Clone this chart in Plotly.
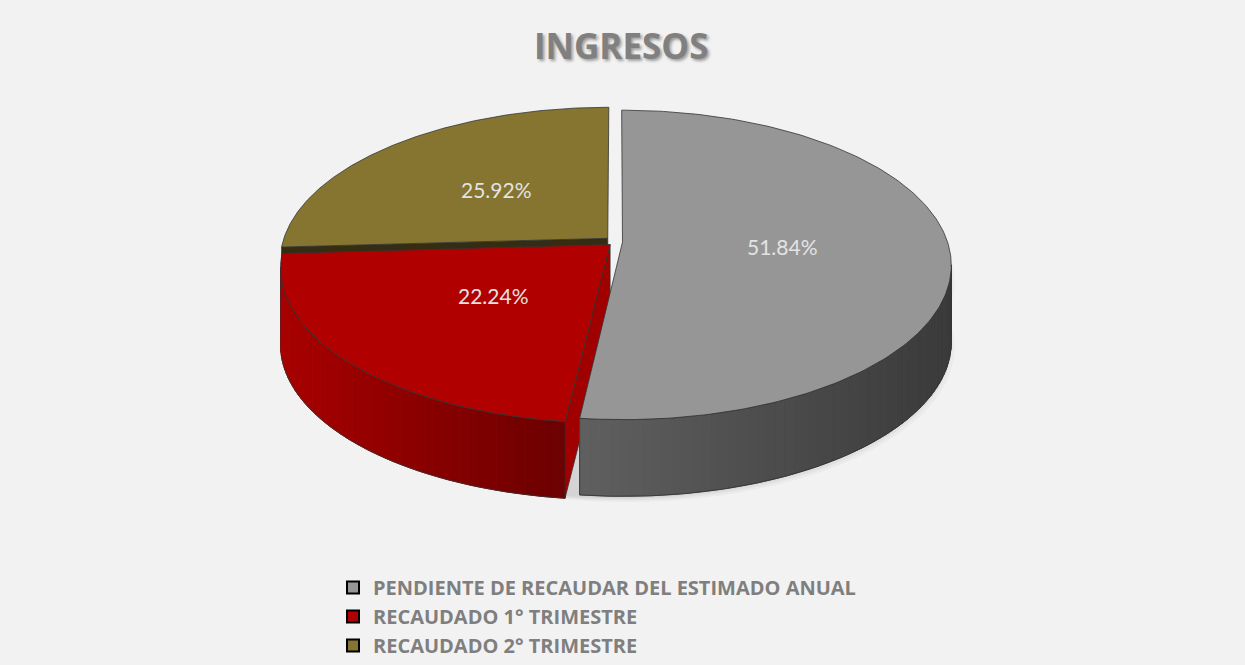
import math
import numpy as np
import plotly.graph_objects as go

# ---------------- data ----------------
categories = [
    "PENDIENTE DE RECAUDAR DEL ESTIMADO ANUAL",
    "RECAUDADO 1° TRIMESTRE",
    "RECAUDADO 2° TRIMESTRE",
]
values = [51.84, 22.24, 25.92]
title_text = "INGRESOS"

# ---------------- style ----------------
top_colors = ["#969696", "#b00000", "#857530"]
wall_left_colors = ["#606060", "#a80000", "#5a4f20"]
wall_right_colors = ["#3a3a3a", "#6c0000", "#3a3210"]
face_colors = ["#4a4a4a", "#a00000", "#342d11"]
edge_color = "#333333"
BG = "#f2f2f2"

W, H = 1245, 665
CX, CY = 616.0, 243.0          # projected apex of the (unexploded) pie
A, K, P = 325.0, 152.0, 0.1475  # horizontal radius, vertical scale, perspective
DEPTH = 77.0
EXPLODE = [0.02, 0.025, 0.035]
LABEL_R = [0.49, 0.467, 0.5]


def project(u, v, z):
    s = 1.0 / (1.0 + P * v)
    return CX + A * u * s, CY - K * v * s + z


def hex2rgb(h):
    h = h.lstrip("#")
    return tuple(int(h[i:i + 2], 16) for i in (0, 2, 4))


def lerp(c1, c2, t):
    a, b = hex2rgb(c1), hex2rgb(c2)
    return "rgb(%d,%d,%d)" % tuple(round(a[i] + (b[i] - a[i]) * t) for i in range(3))


total = float(sum(values))
bounds = np.concatenate([[0.0], np.cumsum(values)]) / total * 360.0

slices = []
for i in range(len(values)):
    t0, t1 = bounds[i], bounds[i + 1]
    tm = math.radians((t0 + t1) / 2)
    su, sv = EXPLODE[i] * math.sin(tm), EXPLODE[i] * math.cos(tm)

    def rim(theta_deg, z, su=su, sv=sv):
        th = math.radians(theta_deg)
        return project(math.sin(th) + su, math.cos(th) + sv, z)

    def apex(z, su=su, sv=sv):
        return project(su, sv, z)

    slices.append(dict(i=i, t0=t0, t1=t1, tm=tm, su=su, sv=sv, rim=rim, apex=apex))

fig = go.Figure()


def poly(xs, ys, fill, line_color=None, line_width=0.8):
    fig.add_trace(go.Scatter(
        x=list(xs) + [xs[0]], y=list(ys) + [ys[0]],
        mode="lines", fill="toself", fillcolor=fill,
        line=dict(color=line_color or fill, width=line_width),
        hoverinfo="skip", showlegend=False,
    ))


def outline(xs, ys, closed=True):
    xs, ys = list(xs), list(ys)
    if closed:
        xs.append(xs[0]); ys.append(ys[0])
    fig.add_trace(go.Scatter(x=xs, y=ys, mode="lines",
                             line=dict(color=edge_color, width=0.8),
                             hoverinfo="skip", showlegend=False))


# soft shadow under the pie
for k_s, alpha in [(10, 0.03), (7, 0.04), (4, 0.05)]:
    th = np.linspace(90, 270, 80)
    xs, ys = [], []
    for t in th:
        x, y = project(math.sin(math.radians(t)), math.cos(math.radians(t)), DEPTH)
        xs.append(x + k_s); ys.append(y + k_s * 0.6)
    for t in th[::-1]:
        x, y = project(math.sin(math.radians(t)), math.cos(math.radians(t)), DEPTH)
        xs.append(x + k_s); ys.append(y - 60)
    fig.add_trace(go.Scatter(x=xs + [xs[0]], y=ys + [ys[0]], mode="lines", fill="toself",
                             fillcolor="rgba(0,0,0,%.2f)" % alpha,
                             line=dict(width=0, color="rgba(0,0,0,0)"),
                             hoverinfo="skip", showlegend=False))

order = sorted(slices, key=lambda s: -s["sv"])  # back to front

# radial faces
for s in order:
    i = s["i"]
    for t, sign in ((s["t0"], -1), (s["t1"], 1)):
        th = math.radians(t)
        ny = sign * (-math.sin(th))
        if ny < -1e-6:
            p1 = s["apex"](0); p2 = s["rim"](t, 0); p3 = s["rim"](t, DEPTH); p4 = s["apex"](DEPTH)
            xs = [p1[0], p2[0], p3[0], p4[0]]
            ys = [p1[1], p2[1], p3[1], p4[1]]
            poly(xs, ys, face_colors[i], edge_color)

# side walls with gradient
thR = math.degrees(math.acos(-P))
thL = 360.0 - thR
for s in order:
    i = s["i"]
    lo, hi = max(s["t0"], thR), min(s["t1"], thL)
    if hi <= lo:
        continue
    n = max(4, int((hi - lo) / 1.5))
    edges = np.linspace(lo, hi, n + 1)
    xr = [s["rim"](t, 0)[0] for t in edges]
    xmin, xmax = min(xr), max(xr)
    for a, b in zip(edges[:-1], edges[1:]):
        ts = np.linspace(a, b, 3)
        top = [s["rim"](t, 0) for t in ts]
        bot = [s["rim"](t, DEPTH) for t in ts[::-1]]
        pts = top + bot
        xm = (top[0][0] + top[-1][0]) / 2
        tt = (xm - xmin) / (xmax - xmin) if xmax > xmin else 0
        c = lerp(wall_left_colors[i], wall_right_colors[i], tt)
        poly([p[0] for p in pts], [p[1] for p in pts], c, c, 1.0)
    ts = np.linspace(lo, hi, 120)
    top = [s["rim"](t, 0) for t in ts]
    bot = [s["rim"](t, DEPTH) for t in ts[::-1]]
    pts = top + bot
    outline([p[0] for p in pts], [p[1] for p in pts])

# top faces
for s in order:
    i = s["i"]
    ts = np.linspace(s["t0"], s["t1"], 200)
    pts = [s["apex"](0)] + [s["rim"](t, 0) for t in ts]
    poly([p[0] for p in pts], [p[1] for p in pts], top_colors[i], edge_color, 0.8)

# data labels
for s in slices:
    i = s["i"]
    r = LABEL_R[i]
    x, y = project(r * math.sin(s["tm"]) + s["su"], r * math.cos(s["tm"]) + s["sv"], 0)
    fig.add_annotation(x=x, y=y, xref="x", yref="y", text="%.2f%%" % values[i],
                       showarrow=False,
                       font=dict(family="Lato, Open Sans, sans-serif", size=21, color="#e3e3e3"))

# legend entries
for i, cat in enumerate(categories):
    fig.add_trace(go.Scatter(
        x=[None], y=[None], mode="markers", name=cat,
        marker=dict(symbol="square", size=12, color=top_colors[i],
                    line=dict(color="#000000", width=2)),
        showlegend=True,
    ))

fig.update_layout(
    paper_bgcolor=BG, plot_bgcolor=BG,
    margin=dict(l=0, r=0, t=0, b=0),
    title=dict(text="<b>%s</b>" % title_text, x=0.499, xanchor="center",
               y=1 - 47 / H, yanchor="middle",
               font=dict(family="Open Sans, sans-serif", size=35, color="#808080",
                         shadow="2px 2px 3px rgba(0,0,0,0.35)")),
    xaxis=dict(range=[0, W], visible=False, fixedrange=True),
    yaxis=dict(range=[H, 0], visible=False, fixedrange=True),
    legend=dict(x=333 / W, xanchor="left", y=1 - 571 / H, yanchor="top",
                bgcolor="rgba(0,0,0,0)", traceorder="normal",
                font=dict(family="Open Sans, sans-serif", size=20, color="#7f7f7f",
                          weight="bold"),
                tracegroupgap=0),
    showlegend=True,
)

fig.write_html(
    "out.html",
    config={"displayModeBar": False},
    post_script=(
        "document.documentElement.style.margin='0';"
        "document.body.style.margin='0';"
        "document.body.style.overflow='hidden';"
        "Plotly.Plots.resize(document.getElementById('{plot_id}'));"
    ),
)
